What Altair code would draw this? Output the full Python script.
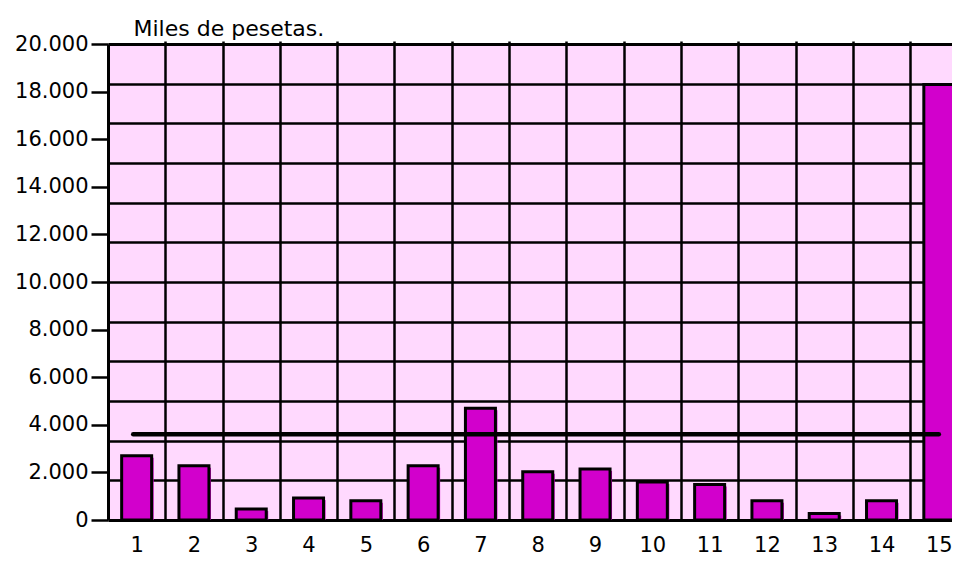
import altair as alt
import pandas as pd

# ---- data ----
categories = list(range(1, 16))
values = [2700, 2280, 460, 920, 810, 2280, 4700, 2030, 2140, 1600, 1490, 810, 270, 810, 18300]
reference_level = [3600]
reference_from = [0.94]
reference_to = [15]
y_tick_values = list(range(0, 20001, 2000))

df = pd.DataFrame({"cat": categories, "value": values})
ref = pd.DataFrame({"x": reference_from, "x2": reference_to, "y": reference_level})

FONT = "DejaVu Sans"
MAG = "#D200CC"
PINK = "#FFD9FE"

grid_x = [c + 0.5 for c in categories[:-1]]
grid_y = [20000 * k / 12 for k in range(1, 12)]

# the reference is cut at its right edge, inside the 15th band
xscale = alt.Scale(domain=[0.5, 15.23], nice=False, zero=False, padding=0)
yscale = alt.Scale(domain=[0, 20000], nice=False, padding=0)

shadow = alt.Chart(df).mark_bar(size=30, color=MAG, xOffset=2, yOffset=2, y2Offset=2,
                                clip=True).encode(
    x=alt.X("cat:Q", scale=xscale,
            axis=alt.Axis(orient="bottom", values=categories, tickSize=0, labelPadding=14,
                          grid=False, domainColor="black", domainWidth=3,
                          labelFont=FONT, labelFontSize=21, labelColor="black",
                          labelFlush=False, labelOverlap=False, title=None)),
    y=alt.Y("value:Q", scale=yscale,
            axis=alt.Axis(orient="left", values=y_tick_values,
                          labelExpr="replace(format(datum.value, ','), ',', '.')",
                          tickSize=17, tickWidth=2.5, tickColor="black",
                          domainColor="black", domainWidth=3, labelPadding=3,
                          labelFont=FONT, labelFontSize=21, labelColor="black",
                          labelOverlap=False, grid=False,
                          title="Miles de pesetas.", titleAngle=0, titleX=25, titleY=-9,
                          titleAlign="left", titleBaseline="alphabetic", titleFont=FONT,
                          titleFontSize=22, titleFontWeight="normal", titleColor="black")),
)

bars = alt.Chart(df).mark_bar(size=30, color=MAG, stroke="black", strokeWidth=3,
                              clip=True).encode(
    x=alt.X("cat:Q", scale=xscale, axis=None),
    y=alt.Y("value:Q", scale=yscale, axis=None),
)

mean = alt.Chart(ref).mark_rule(color="black", strokeWidth=4.5, strokeCap="round").encode(
    x=alt.X("x:Q", scale=xscale,
            axis=alt.Axis(orient="top", values=grid_x, grid=True, gridColor="black",
                          gridWidth=2.5, gridOpacity=1, tickSize=3, tickWidth=2.5,
                          tickColor="black", labels=False, domainColor="black",
                          domainWidth=3, title=None)),
    x2="x2:Q",
    y=alt.Y("y:Q", scale=yscale,
            axis=alt.Axis(orient="right", values=grid_y, grid=True, gridColor="black",
                          gridWidth=2.5, gridOpacity=1, labels=False, ticks=False,
                          domain=False, title=None)),
)

chart = alt.layer(shadow, bars, mean).resolve_axis(
    x="independent", y="independent"
).properties(
    width=844, height=476,
    autosize=alt.AutoSizeParams(type="none"),
    padding={"left": 100, "top": 36, "right": 0, "bottom": 39},
).configure_view(fill=PINK, stroke=None)

chart.save("out.html", embed_options={"renderer": "svg", "actions": False})
